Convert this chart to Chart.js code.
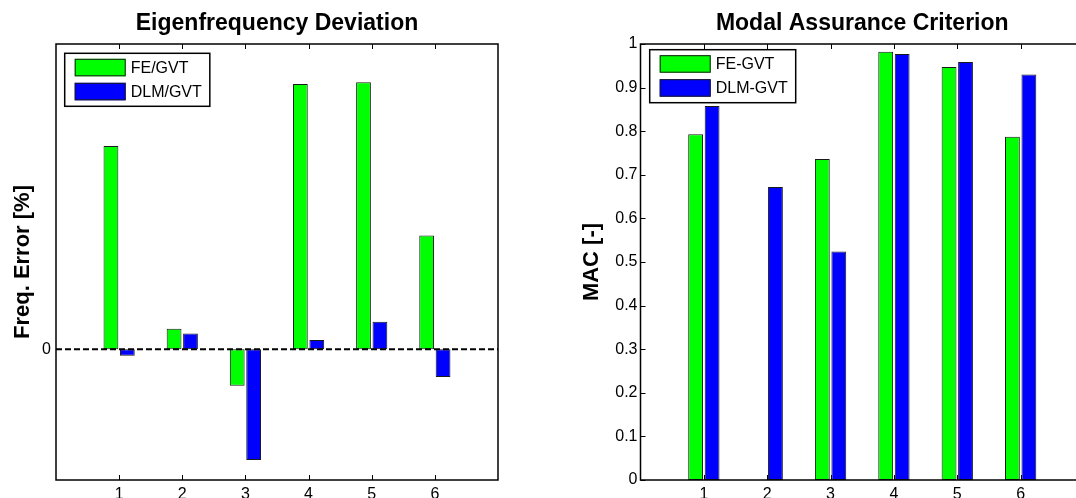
<!DOCTYPE html>
<html>
<head>
<meta charset="utf-8">
<script src="https://cdn.jsdelivr.net/npm/chart.js@4.4.1/dist/chart.umd.min.js"></script>
<style>
  html, body { margin:0; padding:0; background:#fff; overflow:hidden; }
  #wrap { position:relative; width:1076px; height:498px; overflow:hidden; }
  #ch-freq { position:absolute; left:0; top:0; }
  #ch-mac  { position:absolute; left:540px; top:0; }
</style>
</head>
<body>
<div id="wrap">
  <canvas id="ch-freq" width="540" height="498"></canvas>
  <canvas id="ch-mac" width="560" height="498"></canvas>
</div>
<script>
// ====================== DATA ======================
const modes      = ['1', '2', '3', '4', '5', '6'];
const feFreqErr  = [4.66, 0.47, -0.84, 6.08, 6.12, 2.61];
const dlmFreqErr = [-0.15, 0.36, -2.54, 0.21, 0.63, -0.64];
const freqTicks  = [0];
const feMac      = [0.793, 0, 0.736, 0.982, 0.947, 0.787];
const dlmMac     = [0.858, 0.672, 0.524, 0.977, 0.959, 0.930];
const macTicks   = [0, 0.1, 0.2, 0.3, 0.4, 0.5, 0.6, 0.7, 0.8, 0.9, 1];

// x runs 0..7 like the matlab axes, empty slots at both ends
const xLabels = ['', ...modes, ''];
const pad = arr => [null, ...arr, null];

Chart.defaults.font.family = '"Liberation Sans", Arial, Helvetica, sans-serif';
Chart.defaults.color = '#000';

// box, inward ticks, dashed zero line and the legend box, matlab style
const matlabAxes = {
  id: 'matlabAxes',
  afterDatasetsDraw(chart, args, opts) {
    const { ctx, chartArea: a, scales: { x, y } } = chart;
    ctx.save();
    ctx.strokeStyle = '#000';

    if (opts.zeroLine) {
      const y0 = y.getPixelForValue(0);
      ctx.setLineDash([6, 3]);
      ctx.lineWidth = 2;
      ctx.beginPath(); ctx.moveTo(a.left, y0); ctx.lineTo(a.right, y0); ctx.stroke();
      ctx.setLineDash([]);
    }

    ctx.lineWidth = 1;
    const tl = 5;
    x.ticks.forEach((t, i) => {
      if (!x.getLabelForValue(t.value)) return;
      const px = Math.round(x.getPixelForTick(i)) + 0.5;
      ctx.beginPath();
      ctx.moveTo(px, a.bottom); ctx.lineTo(px, a.bottom - tl);
      ctx.moveTo(px, a.top);    ctx.lineTo(px, a.top + tl);
      ctx.stroke();
    });
    if (opts.yTicks) {
      y.ticks.forEach((t, i) => {
        const py = Math.round(y.getPixelForTick(i)) + 0.5;
        ctx.beginPath();
        ctx.moveTo(a.left, py);  ctx.lineTo(a.left + tl, py);
        ctx.moveTo(a.right, py); ctx.lineTo(a.right - tl, py);
        ctx.stroke();
      });
    }

    ctx.lineWidth = 1.5;
    ctx.strokeRect(a.left, a.top, a.right - a.left, a.bottom - a.top);

    // legend
    const ds = chart.data.datasets;
    ctx.font = '16px "Liberation Sans", Arial, sans-serif';
    const tw = Math.max(...ds.map(d => ctx.measureText(d.label).width));
    const lx = a.left + opts.legendX, ly = a.top + opts.legendY;
    const sw = 51, sh = 17.5, rowH = 24;
    const bw = 10 + sw + 5 + tw + 8, bh = ds.length * rowH + 5;
    ctx.fillStyle = '#fff';
    ctx.fillRect(lx, ly, bw, bh);
    ctx.lineWidth = 1.5;
    ctx.strokeRect(lx, ly, bw, bh);
    ds.forEach((d, i) => {
      const sy = ly + 5.5 + i * rowH;
      ctx.fillStyle = d.backgroundColor;
      ctx.fillRect(lx + 10, sy, sw, sh);
      ctx.lineWidth = 1;
      ctx.strokeStyle = '#1a1a1a';
      ctx.strokeRect(lx + 10.5, sy + 0.5, sw - 1, sh - 1);
      ctx.fillStyle = '#000';
      ctx.textBaseline = 'middle';
      ctx.textAlign = 'left';
      ctx.fillText(d.label, lx + 10 + sw + 5, sy + sh / 2 + 1);
    });
    ctx.restore();
  }
};

function barSet(label, data, color) {
  return {
    label, data: pad(data), backgroundColor: color,
    borderColor: '#1a1a1a', borderWidth: 1, borderSkipped: false,
    categoryPercentage: 0.52, barPercentage: 0.9
  };
}

function xScale() {
  return {
    offset: false,
    grid: { display: false, drawTicks: false },
    border: { display: false },
    ticks: { autoSkip: false, maxRotation: 0, padding: 5, font: { size: 16 } },
    afterFit: s => { s.height = 18; }
  };
}

new Chart(document.getElementById('ch-freq'), {
  type: 'bar',
  data: {
    labels: xLabels,
    datasets: [barSet('FE/GVT', feFreqErr, '#00ff00'), barSet('DLM/GVT', dlmFreqErr, '#0000ff')]
  },
  options: {
    responsive: false, animation: false, devicePixelRatio: 1,
    layout: { padding: { left: 0, right: 42, top: 0, bottom: 0 } },
    plugins: {
      legend: { display: false },
      tooltip: { enabled: false },
      title: { display: true, text: 'Eigenfrequency Deviation', fullSize: false,
               font: { size: 23, weight: 'bold' }, color: '#000', padding: { top: 10, bottom: 6.4 } },
      matlabAxes: { zeroLine: true, yTicks: false, legendX: 8.7, legendY: 9.3 }
    },
    scales: {
      x: xScale(),
      y: {
        min: -3, max: 7,
        afterBuildTicks: s => { s.ticks = freqTicks.map(v => ({ value: v })); },
        grid: { display: false, drawTicks: false },
        border: { display: false },
        ticks: { padding: 5, font: { size: 16 } },
        title: { display: true, text: 'Freq. Error [%]', font: { size: 22, weight: 'bold' },
                 color: '#000', padding: { top: 10, bottom: 0 } },
        afterFit: s => { s.width = 56; }
      }
    }
  },
  plugins: [matlabAxes]
});

new Chart(document.getElementById('ch-mac'), {
  type: 'bar',
  data: {
    labels: xLabels,
    datasets: [barSet('FE-GVT', feMac, '#00ff00'), barSet('DLM-GVT', dlmMac, '#0000ff')]
  },
  options: {
    responsive: false, animation: false, devicePixelRatio: 1,
    layout: { padding: { left: 0, right: 16, top: 0, bottom: 0 } },
    plugins: {
      legend: { display: false },
      tooltip: { enabled: false },
      title: { display: true, text: 'Modal Assurance Criterion', fullSize: false,
               font: { size: 23, weight: 'bold' }, color: '#000', padding: { top: 10, bottom: 6.4 } },
      matlabAxes: { zeroLine: false, yTicks: true, legendX: 9.2, legendY: 5.7 }
    },
    scales: {
      x: xScale(),
      y: {
        min: 0, max: 1,
        afterBuildTicks: s => { s.ticks = macTicks.map(v => ({ value: v })); },
        grid: { display: false, drawTicks: false },
        border: { display: false },
        ticks: { padding: 3, font: { size: 16 }, callback: v => String(v) },
        title: { display: true, text: 'MAC [-]', font: { size: 22, weight: 'bold' },
                 color: '#000', padding: { top: 39, bottom: 0 } },
        afterFit: s => { s.width = 100.5; }
      }
    }
  },
  plugins: [matlabAxes]
});
</script>
</body>
</html>
